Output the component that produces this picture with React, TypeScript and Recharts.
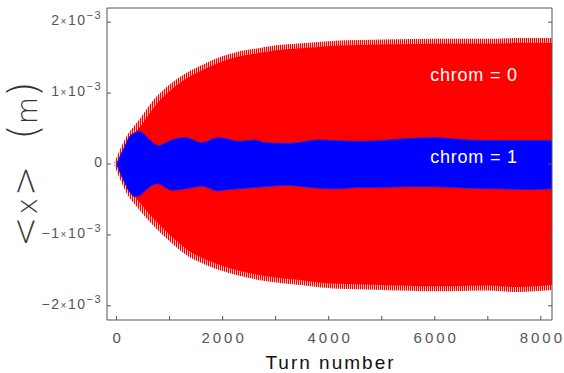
import { ComposedChart, Area, XAxis, YAxis, ReferenceDot } from 'recharts';

// amplitude envelopes, in units of 1e-3 m
const redTurns = [0, 250, 440, 720, 1040, 1350, 1670, 1980, 2300, 2610, 2930, 3550, 4060, 5000, 6000, 7000, 7500, 8210];
const redUpper = [0, 0.40, 0.58, 0.87, 1.10, 1.26, 1.38, 1.48, 1.55, 1.59, 1.63, 1.67, 1.70, 1.72, 1.73, 1.73, 1.74, 1.74];
const redLower = [0, -0.42, -0.60, -0.84, -1.07, -1.26, -1.38, -1.47, -1.54, -1.59, -1.63, -1.68, -1.72, -1.74, -1.76, -1.75, -1.77, -1.74];

const blueTurns = [0, 150, 250, 345, 420, 534, 650, 785, 900, 1040, 1290, 1450, 1600, 1920, 2100, 2300, 2610, 2800, 3240, 3500, 3800, 4120, 4600, 5000, 5500, 6000, 6600, 7200, 7800, 8210];
const blueUpper = [0, 0.24, 0.39, 0.44, 0.46, 0.41, 0.32, 0.26, 0.29, 0.34, 0.37, 0.34, 0.30, 0.37, 0.35, 0.32, 0.34, 0.30, 0.29, 0.31, 0.34, 0.33, 0.32, 0.33, 0.36, 0.37, 0.34, 0.33, 0.33, 0.33];
const blueLower = [0, -0.26, -0.40, -0.46, -0.45, -0.38, -0.31, -0.28, -0.32, -0.37, -0.35, -0.33, -0.31, -0.38, -0.36, -0.35, -0.33, -0.32, -0.30, -0.32, -0.34, -0.35, -0.33, -0.33, -0.32, -0.32, -0.34, -0.35, -0.36, -0.35];

const xTicks = [0, 1000, 2000, 3000, 4000, 5000, 6000, 7000, 8000];
const yTicks = [-0.002, -0.001, 0, 0.001, 0.002];

const redData = redTurns.map((t, i) => ({ t, v: [redLower[i] * 1e-3, redUpper[i] * 1e-3] }));
const blueData = blueTurns.map((t, i) => ({ t, v: [blueLower[i] * 1e-3, blueUpper[i] * 1e-3] }));

const FONT = 'Liberation Sans, Arial, sans-serif';
const FRAME = '#555';

const YTick = ({ x, y, payload }: any) => {
  const v = Math.round(payload.value * 1e3);
  if (v === 0) {
    return <text x={x} y={y} dy={3} textAnchor="end" fill="#555" fontSize={14} fontFamily={FONT}>0</text>;
  }
  return (
    <text x={x} y={y} dy={3} textAnchor="end" fill="#555" fontSize={14} fontFamily={FONT} letterSpacing={1.5}>
      {v < 0 ? '\u2212' : ''}{Math.abs(v)}<tspan fontSize={10}>×</tspan>10<tspan dy={-6} fontSize={11}>{'\u22123'}</tspan>
    </text>
  );
};

const XTick = ({ x, y, payload }: any) => {
  if (payload.value % 2000 !== 0) return <g />;
  return (
    <text x={x + 1.5} y={y} dy={5} textAnchor="middle" fill="#555" fontSize={15} fontFamily={FONT} letterSpacing={3}>
      {payload.value}
    </text>
  );
};

const NoTick = () => <g />;

const YLabel = ({ viewBox }: any) => {
  const cx = (viewBox?.x ?? 0) + 37;
  const cy = (viewBox?.y ?? 8) + (viewBox?.height ?? 312) / 2;
  return (
    <text transform={`translate(${cx},${cy}) rotate(-90)`} textAnchor="middle" fill="#333" fontFamily="DejaVu Sans, sans-serif" fontWeight={200} fontSize={28}>
      <tspan fontSize={36}>{'<'}</tspan><tspan dx={2}>x</tspan><tspan dx={2} fontSize={36}>{'>'}</tspan>
      <tspan dx={26} fontSize={40}>(</tspan><tspan>m</tspan><tspan fontSize={40}>)</tspan>
    </text>
  );
};

const XLabel = ({ viewBox }: any) => {
  const cx = (viewBox?.x ?? 107) + (viewBox?.width ?? 445) / 2;
  const by = (viewBox?.y ?? 320) + 49;
  return (
    <text x={cx + 1} y={by} textAnchor="middle" fill="#111" fontSize={19} fontFamily={FONT} letterSpacing={2}>
      Turn number
    </text>
  );
};

export default function App() {
  return (
    <div style={{ position: 'absolute', left: 0, top: 0, width: 564, height: 373, background: '#fff' }}>
      <ComposedChart width={564} height={373} margin={{ top: 7, right: 11, left: 0, bottom: 0 }}>
        <defs>
          <pattern id="fringe" patternUnits="userSpaceOnUse" width={2} height={4}>
            <rect x={0} y={0} width={1} height={4} fill="#ff0000" />
            <rect x={1} y={0} width={1} height={4} fill="#f4cccc" />
          </pattern>
        </defs>
        <XAxis
          dataKey="t"
          type="number"
          domain={[-180, 8210]}
          ticks={xTicks}
          allowDataOverflow
          height={53}
          stroke={FRAME}
          tickSize={-4}
          tickMargin={22}
          tick={<XTick />}
          label={{ content: XLabel }}
        />
        <XAxis
          xAxisId="top"
          orientation="top"
          type="number"
          domain={[-180, 8210]}
          ticks={xTicks}
          allowDataOverflow
          height={1}
          stroke={FRAME}
          tickSize={-4}
          tick={<NoTick />}
        />
        <YAxis
          type="number"
          domain={[-0.0022, 0.0022]}
          ticks={yTicks}
          allowDataOverflow
          width={107}
          stroke={FRAME}
          tickSize={-4}
          tickMargin={9}
          tick={<YTick />}
          label={{ content: YLabel }}
        />
        <YAxis
          yAxisId="right"
          orientation="right"
          type="number"
          domain={[-0.0022, 0.0022]}
          ticks={yTicks}
          allowDataOverflow
          width={1}
          stroke={FRAME}
          tickSize={-4}
          tick={<NoTick />}
        />
        <Area
          data={redData}
          dataKey="v"
          type="monotone"
          fill="#ff0000"
          fillOpacity={1}
          stroke="url(#fringe)"
          strokeWidth={5}
          isAnimationActive={false}
        />
        <Area
          data={blueData}
          dataKey="v"
          type="monotone"
          fill="#0000ff"
          fillOpacity={1}
          stroke="#2020e0"
          strokeWidth={1}
          isAnimationActive={false}
        />
        <ReferenceDot
          x={6740}
          y={0.00126}
          r={0}
          fill="none"
          stroke="none"
          label={{ value: 'chrom = 0', position: 'center', fill: '#fff', fontSize: 18, fontFamily: FONT, letterSpacing: 0.8 }}
        />
        <ReferenceDot
          x={6740}
          y={0.0001}
          r={0}
          fill="none"
          stroke="none"
          label={{ value: 'chrom = 1', position: 'center', fill: '#fff', fontSize: 18, fontFamily: FONT, letterSpacing: 0.8 }}
        />
      </ComposedChart>
    </div>
  );
}
